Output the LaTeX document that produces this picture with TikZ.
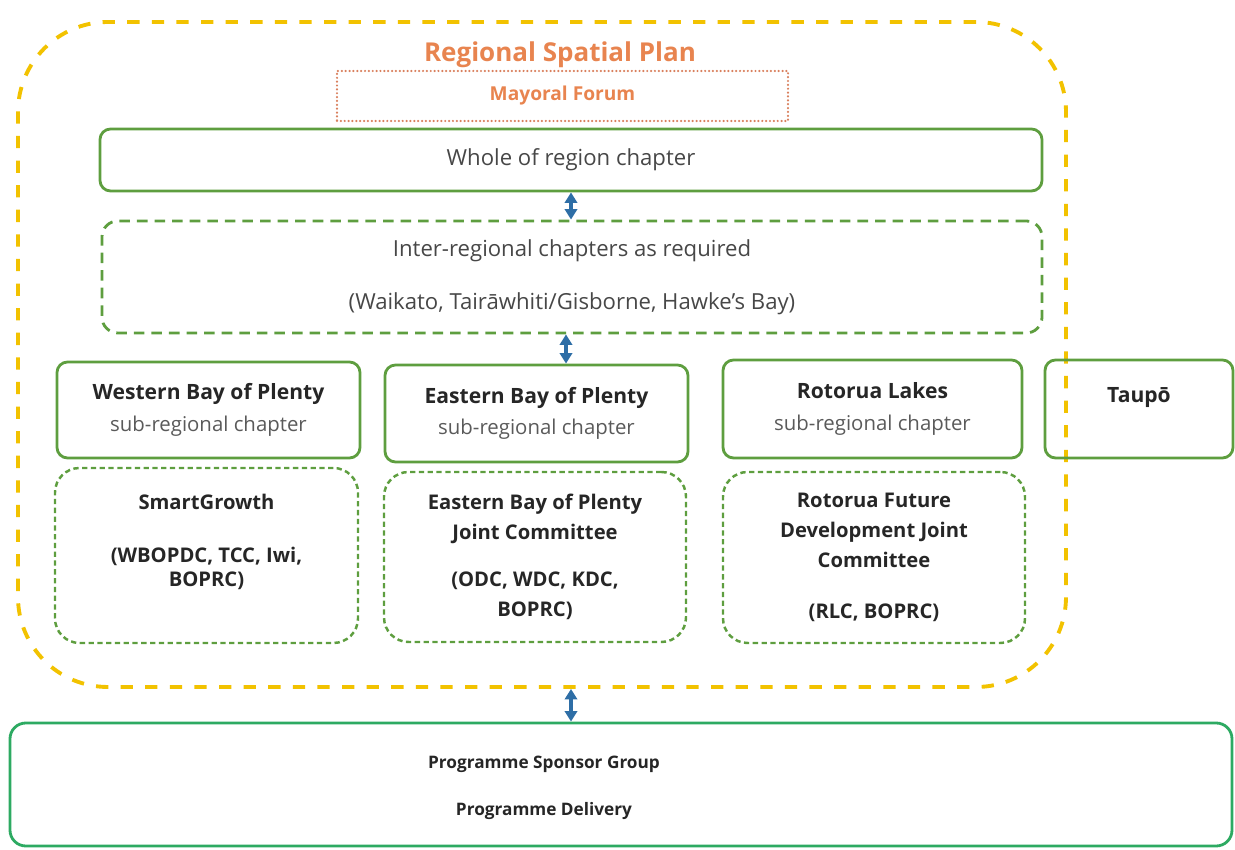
\documentclass[tikz,border=0pt]{standalone}
\usepackage{fontspec}
\setmainfont{Open Sans}
\usetikzlibrary{arrows.meta}
\definecolor{rspyellow}{HTML}{F2C200}
\definecolor{rsporange}{HTML}{E8844F}
\definecolor{rspdots}{HTML}{D9805E}
\definecolor{rspgreen}{HTML}{5E9E3F}
\definecolor{rspteal}{HTML}{2DAA62}
\definecolor{rspblue}{HTML}{2E6EA6}
\definecolor{rsptext}{HTML}{262626}
\definecolor{rspgrey}{HTML}{5A5A5A}

\begin{document}
\begin{tikzpicture}[
  chapter/.style = {draw=rspgreen, line width=1.6pt, rounded corners=6pt, align=center, text=rsptext, inner sep=0pt, font=\fontsize{12}{18}\selectfont},
  committee/.style = {draw=rspgreen, line width=1.4pt, dash pattern=on 3pt off 2pt, rounded corners=14pt, align=center, text=rsptext, inner sep=0pt, font=\bfseries\fontsize{11.5}{17}\selectfont},
  link/.style = {rspblue, line width=1.8pt, {Triangle[length=6pt,width=7pt]}-{Triangle[length=6pt,width=7pt]}}
]
\useasboundingbox (0, 0) rectangle (24.7, 17);
\node[draw=rspyellow, line width=2.2pt, dash pattern=on 7pt off 7pt, rounded corners=1.8cm, minimum width=20.96cm, minimum height=13.3cm] (plan) at (10.84, 9.91){};
\node[rsporange, font=\bfseries\fontsize{14.8}{16}\selectfont] (title) at (11.2, 15.9){Regional Spatial Plan};
\node[draw=rspdots, line width=1.4pt, line cap=round, dash pattern=on 0pt off 2.2pt, minimum width=9.02cm, minimum height=1cm, text=rsporange, font=\bfseries\fontsize{10.9}{12}\selectfont] (mayoral) at (11.25, 15.08){Mayoral Forum};
\node[chapter, font=\fontsize{12.6}{18}\selectfont, minimum width=18.84cm, minimum height=1.24cm, text=rsptext!85] (whole) at (11.42, 13.8){Whole of region chapter};
\node[chapter, font=\fontsize{12.6}{18}\selectfont, dash pattern=on 6pt off 4pt, rounded corners=9pt, minimum width=18.8cm, minimum height=2.24cm, text=rsptext!85] (inter) at (11.44, 11.46){Inter-regional chapters as required\\[12pt](Waikato, Tairāwhiti/Gisborne, Hawke’s Bay)};
\node[chapter, minimum width=6.06cm, minimum height=1.92cm] (western) at (4.17, 8.8){\textbf{Western Bay of Plenty}\\\textcolor{rspgrey}{\fontsize{11.6}{18}\selectfont sub-regional chapter}};
\node[chapter, minimum width=6.06cm, minimum height=1.94cm] (eastern) at (10.73, 8.73){\textbf{Eastern Bay of Plenty}\\\textcolor{rspgrey}{\fontsize{11.6}{18}\selectfont sub-regional chapter}};
\node[chapter, minimum width=5.98cm, minimum height=1.96cm] (rotorua) at (17.45, 8.82){\textbf{Rotorua Lakes}\\\textcolor{rspgrey}{\fontsize{11.6}{18}\selectfont sub-regional chapter}};
\node[chapter, minimum width=3.76cm, minimum height=1.96cm] (taupo) at (22.78, 8.82){\textbf{Taupō}\\[-2pt]\mbox{}};
\node[committee, minimum width=6.06cm, minimum height=3.5cm] (smart) at (4.13, 5.89){SmartGrowth\\[13pt](WBOPDC, TCC, Iwi,\\[-3pt]BOPRC)\\\mbox{}};
\node[committee, minimum width=6.04cm, minimum height=3.4cm] (ebopjc) at (10.7, 5.86){Eastern Bay of Plenty\\Joint Committee\\[10pt](ODC, WDC, KDC,\\BOPRC)};
\node[committee, minimum width=6.04cm, minimum height=3.42cm] (rfdjc) at (17.48, 5.85){Rotorua Future\\Development Joint\\Committee\\[12pt](RLC, BOPRC)};
\node[draw=rspteal, line width=1.6pt, rounded corners=9pt, minimum width=24.44cm, minimum height=2.46cm] (sponsor) at (12.42, 1.31){};
\node[align=center, text=rsptext, font=\bfseries\fontsize{9.8}{12}\selectfont] (sponsortxt) at (10.88, 1.24){Programme Sponsor Group\\[14.6pt]Programme Delivery};
\coordinate (ax) at (11.32, 0);
\draw[link] (whole.south) -- (whole.south |- inter.north);
\draw[link] (inter.south -| ax) -- (eastern.north -| ax);
\draw[link] (plan.south -| whole.south) -- (sponsor.north -| whole.south);
\end{tikzpicture}
\end{document}
